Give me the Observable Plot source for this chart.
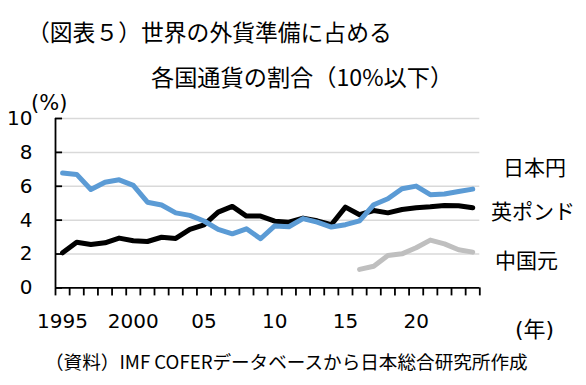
<!DOCTYPE html>
<html><head><meta charset="utf-8">
<script src="https://cdn.jsdelivr.net/npm/d3@7"></script>
<script src="https://cdn.jsdelivr.net/npm/@observablehq/plot@0.6"></script>
<style>
body{margin:0;background:#fff;}
#wrap{position:relative;width:586px;height:385px;overflow:hidden;font-family:"Noto Sans CJK JP",sans-serif;background:#fff;}
#wrap svg{position:absolute;left:0;top:0;}
.t{position:absolute;white-space:nowrap;color:#000;line-height:1;}
</style></head><body><div id="wrap"></div>
<script>
const years = d3.range(1995, 2025);
const jpy = [6.78,6.70,5.81,6.24,6.38,6.05,5.06,4.89,4.43,4.28,
             3.95,3.45,3.19,3.49,2.90,3.66,3.61,4.09,3.88,3.59,
             3.73,3.96,4.91,5.26,5.85,6.01,5.50,5.54,5.69,5.83];
const gbp = [2.07,2.70,2.56,2.66,2.94,2.78,2.74,2.99,2.92,3.45,
             3.72,4.47,4.81,4.24,4.24,3.94,3.88,4.12,3.96,3.73,
             4.77,4.32,4.57,4.43,4.63,4.73,4.79,4.87,4.85,4.73];
const cnyYears = d3.range(2016, 2025);
const cny = [1.09,1.28,1.91,2.01,2.37,2.82,2.60,2.25,2.11];
const yTicks = [0,2,4,6,8,10];
const xLabelYears = [1995,2000,2005,2010,2015,2020];
const xLabelText = ["1995","2000","05","10","15","20"];
const seriesNames = ["日本円","英ポンド","中国元"];
const seriesColors = ["#5B9BD5","#000000","#BFBFBF"];

const rows = [
  ...years.map((yr,i)=>({year:yr, value:jpy[i], s:seriesNames[0]})),
  ...years.map((yr,i)=>({year:yr, value:gbp[i], s:seriesNames[1]})),
  ...cnyYears.map((yr,i)=>({year:yr, value:cny[i], s:seriesNames[2]}))
];
const boundaries = d3.range(1994.5, 2025, 1);
const labelMap = new Map(xLabelYears.map((y,i)=>[y, xLabelText[i]]));
const x0 = years[0]-0.5, x1 = years[years.length-1]+0.5;

const lineOpts = (name) => ({
  filter: d => d.s === name, x:"year", y:"value",
  stroke: seriesColors[seriesNames.indexOf(name)], strokeWidth:5,
  strokeLinejoin:"round", strokeLinecap:"round"
});

const plot = Plot.plot({
  width:586, height:385,
  marginLeft:55, marginRight:106.7, marginTop:118, marginBottom:97.6,
  x:{domain:[x0,x1], label:null},
  y:{domain:[0,10], label:null},
  style:{fontFamily:"'DejaVu Sans', sans-serif", fontSize:"20px", color:"#000", background:"transparent", overflow:"visible"},
  marks:[
    Plot.ruleY(yTicks.filter(d=>d>0), {x1:x0, x2:x1, stroke:"#d9d9d9", strokeWidth:1.5}),
    Plot.axisY(yTicks, {tickSize:0, tickPadding:23, fontSize:20, label:null}),
    Plot.axisX(boundaries, {tickSize:8, tickFormat:()=>"", strokeWidth:1.8, label:null}),
    Plot.axisX(xLabelYears, {tickSize:0, tickPadding:26, tickFormat:d=>labelMap.get(d), fontSize:20, label:null}),
    Plot.ruleY(yTicks, {x1:x0, x2:x0+0.5, stroke:"#000", strokeWidth:1.8}),
    Plot.ruleX([x0], {y1:0, y2:10, stroke:"#000", strokeWidth:1.8}),
    Plot.ruleY([0], {x1:x0, x2:x1, stroke:"#000", strokeWidth:1.8}),
    Plot.line(rows, lineOpts(seriesNames[1])),
    Plot.line(rows, lineOpts(seriesNames[2])),
    Plot.line(rows, lineOpts(seriesNames[0]))
  ]
});
const wrap = document.getElementById("wrap");
wrap.appendChild(plot);

function addText(txt, left, top, size, family){
  const d = document.createElement("div");
  d.className = "t";
  d.textContent = txt;
  d.style.left = left+"px"; d.style.top = top+"px"; d.style.fontSize = size+"px";
  if (family) d.style.fontFamily = family;
  wrap.appendChild(d);
}
addText("（図表５）世界の外貨準備に占める", 27, 21.3, 22.8);
addText("各国通貨の割合（10%以下）", 151, 64.8, 23.2);
addText("(%)", 31, 93, 21, "'DejaVu Sans','Noto Sans CJK JP',sans-serif");
addText("(年)", 515, 319.3, 22, "'DejaVu Sans','Noto Sans CJK JP',sans-serif");
addText(seriesNames[0], 503, 156.3, 21);
addText(seriesNames[1], 491, 200.3, 21);
addText(seriesNames[2], 495, 249.3, 21);
addText("（資料）IMF COFERデータベースから日本総合研究所作成", 45, 351.7, 18.6);
</script></body></html>
